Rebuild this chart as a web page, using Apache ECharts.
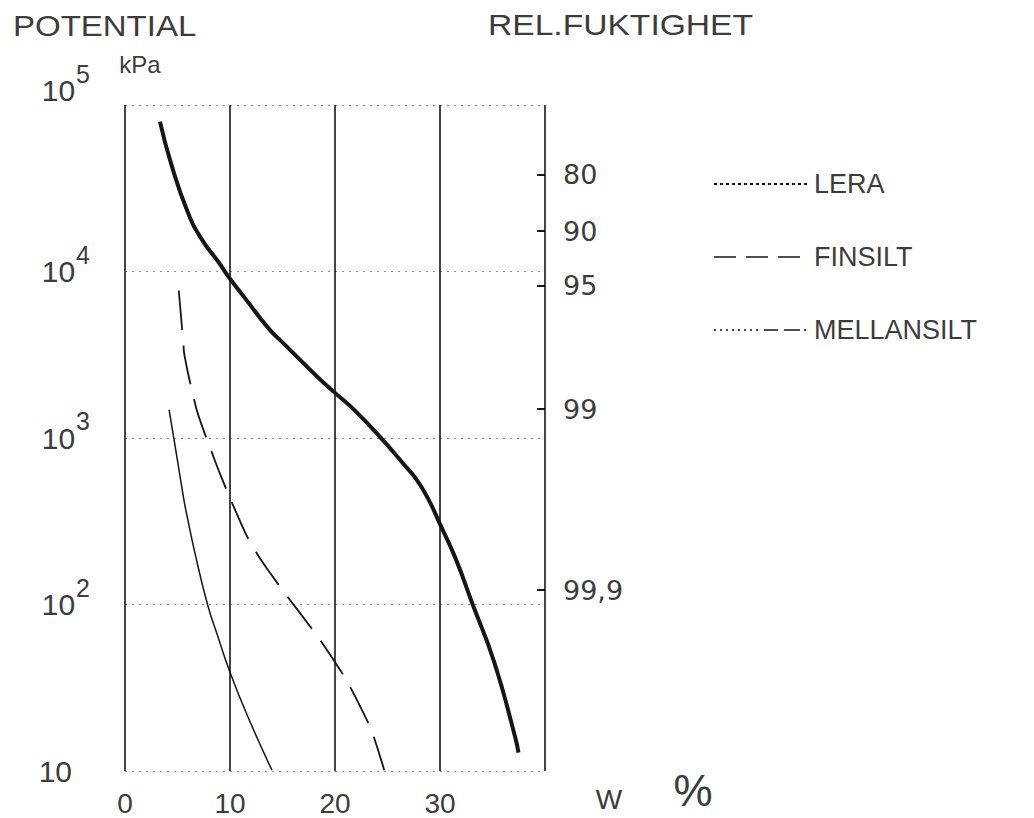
<!DOCTYPE html>
<html>
<head>
<meta charset="utf-8">
<title>POTENTIAL – W</title>
<script src="https://cdn.jsdelivr.net/npm/echarts@6/dist/echarts.min.js"></script>
<style>
  html, body { margin: 0; padding: 0; background: #ffffff; }
  #chart { width: 1034px; height: 818px; }
</style>
</head>
<body>
<div id="chart"></div>
<script>
// Water content W (%) against soil-water potential (kPa, log scale)

// LERA (clay)
const leraW   = [3.33, 4.37, 5.99, 7.28, 8.9, 10, 11.46, 13.69, 14.95, 18.45, 20.03, 21.95, 24.52, 26.44, 27.72, 28.85, 29.97, 31.53, 33.06, 35.14, 37.18, 37.47];
const leraKPa = [79400, 44900, 22600, 15700, 11400, 9040, 6870, 4540, 3780, 2290, 1860, 1450, 977, 708, 568, 434, 307, 186, 102, 45.6, 15.8, 12.9];

// FINSILT (fine silt)
const finW   = [5.12, 5.56, 5.66, 6.63, 7.02, 8.42, 9.13, 10.83, 11.93, 13.84, 17.65, 18.51, 20.67, 21.32, 23.08, 23.56, 24.69];
const finKPa = [7690, 3700, 3150, 1656, 1349, 773, 592, 330, 237, 154, 73.6, 62.2, 38.8, 33.1, 20.0, 17.0, 10.1];

// MELLANSILT (medium silt)
const mellW   = [4.2, 5.02, 5.66, 5.99, 6.57, 7.86, 8.9, 9.9, 11.59, 14.0];
const mellKPa = [1476, 719, 408, 322, 216, 100, 62.7, 40.8, 22.0, 10.1];

// Axis ticks
const wTicks = [0, 10, 20, 30];
const rhLabels = ['80', '90', '95', '99', '99,9'];
const rhKPa    = [38000, 17500, 8200, 1490, 122];

const FONT = '"Liberation Sans", Arial, sans-serif';
const FONT_NUM = '"DejaVu Sans", "Liberation Sans", sans-serif';
const INK = '#161616';
const TXT = '#3c3c3c';

const zip = (xs, ys) => xs.map((x, i) => [x, ys[i]]);
const rhLog = rhKPa.map(v => Math.log10(v));
const nearestRh = v => {
  let best = 0;
  rhLog.forEach((l, i) => { if (Math.abs(l - v) < Math.abs(rhLog[best] - v)) best = i; });
  return rhLabels[best];
};

const chart = echarts.init(document.getElementById('chart'), null, { renderer: 'svg' });

chart.setOption({
  animation: false,
  backgroundColor: '#ffffff',
  grid: { left: 125, right: 489, top: 105, bottom: 47 },
  xAxis: {
    type: 'value', min: 0, max: 40, interval: 10,
    axisLine: { show: false },
    axisTick: { show: false },
    splitLine: { show: true, lineStyle: { color: INK, width: 1.6 } },
    axisLabel: {
      margin: 18, fontSize: 28, color: TXT, fontFamily: FONT,
      formatter: v => (wTicks.indexOf(v) >= 0 ? String(v) : '')
    }
  },
  yAxis: [
    {
      type: 'log', logBase: 10, min: 10, max: 100000,
      axisLine: { show: false },
      axisTick: { show: false },
      splitLine: { show: true, lineStyle: { color: '#8c8c8c', width: 1, type: [2, 5] } },
      axisLabel: {
        margin: 35,
        formatter: v => {
          const e = Math.round(Math.log10(v));
          if (e === 1) return '{b1|10}';
          if (e === 5) return '{bt|10}{st|' + e + '}';
          return '{b|10}{s|' + e + '}';
        },
        rich: {
          b:  { fontSize: 30, fontFamily: FONT, color: TXT },
          b1: { fontSize: 30, fontFamily: FONT, color: TXT, padding: [0, 18, 0, 0] },
          s:  { fontSize: 25, fontFamily: FONT, color: TXT, padding: [0, 0, 34, 1] },
          bt: { fontSize: 30, fontFamily: FONT, color: TXT, padding: [0, 0, 30, 0] },
          st: { fontSize: 25, fontFamily: FONT, color: TXT, padding: [0, 0, 62, 1] }
        }
      }
    },
    {
      // relative humidity scale, placed on log10(kPa)
      type: 'value', min: 1, max: 5, position: 'right',
      axisLine: { show: false },
      splitLine: { show: false },
      axisTick: {
        show: true, inside: true, length: 8,
        customValues: rhLog,
        lineStyle: { color: INK, width: 2 }
      },
      axisLabel: {
        margin: 18, fontSize: 27, color: TXT, fontFamily: FONT_NUM,
        customValues: rhLog,
        formatter: v => nearestRh(v)
      }
    }
  ],
  legend: {
    orient: 'vertical',
    left: 708, top: 165,
    itemWidth: 95, itemHeight: 14, itemGap: 45,
    textStyle: { fontSize: 27, color: TXT, fontFamily: FONT, lineHeight: 28 },
    itemStyle: { opacity: 0 },
    data: [
      { name: 'LERA', lineStyle: { type: [3, 3], width: 2 } },
      { name: 'FINSILT', lineStyle: { type: [22, 10], width: 1.6 } },
      { name: 'MELLANSILT', lineStyle: { type: [2, 4, 2, 4, 2, 4, 2, 4, 2, 4, 2, 4, 2, 4, 2, 6, 14, 6, 14, 0], width: 1.6 } }
    ]
  },
  graphic: [
    { type: 'text', x: 13, y: 26, scaleX: 1.1,
      style: { text: 'POTENTIAL', fontSize: 30, fontFamily: FONT, fill: TXT, align: 'left', verticalAlign: 'middle' } },
    { type: 'text', x: 140, y: 64,
      style: { text: 'kPa', fontSize: 24, fontFamily: FONT, fill: TXT, align: 'center', verticalAlign: 'middle' } },
    { type: 'text', x: 488, y: 25, scaleX: 1.12,
      style: { text: 'REL.FUKTIGHET', fontSize: 30, fontFamily: FONT, fill: TXT, align: 'left', verticalAlign: 'middle' } },
    { type: 'text', x: 609, y: 799,
      style: { text: 'W', fontSize: 28, fontFamily: FONT, fill: TXT, align: 'center', verticalAlign: 'middle' } },
    { type: 'text', x: 693, y: 790,
      style: { text: '%', fontSize: 44, fontFamily: FONT, fill: TXT, align: 'center', verticalAlign: 'middle' } }
  ],
  series: [
    {
      name: 'LERA', type: 'line', data: zip(leraW, leraKPa),
      smooth: 0.5, symbol: 'none', z: 4,
      lineStyle: { color: INK, width: 4 }
    },
    {
      name: 'FINSILT', type: 'line', data: zip(finW, finKPa),
      smooth: 0.5, symbol: 'none', z: 3,
      lineStyle: { color: INK, width: 1.8, type: [40, 15] }
    },
    {
      name: 'MELLANSILT', type: 'line', data: zip(mellW, mellKPa),
      smooth: 0.5, symbol: 'none', z: 3,
      lineStyle: { color: INK, width: 1.5 }
    }
  ]
});
</script>
</body>
</html>
